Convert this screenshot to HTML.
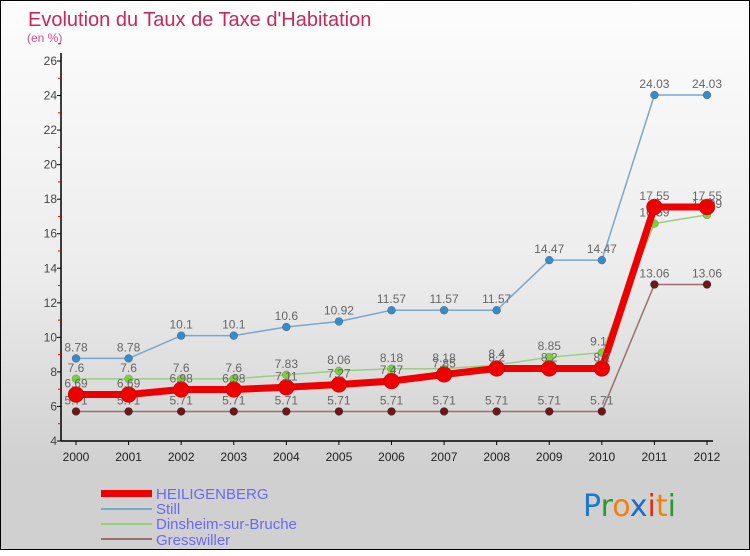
<!DOCTYPE html>
<html><head><meta charset="utf-8"><style>
body{margin:0;width:750px;height:550px;overflow:hidden;font-family:"Liberation Sans",sans-serif}
#c{position:absolute;left:0;top:0;width:748px;height:548px;border:1px solid #000;background:linear-gradient(#fdfdfd 0%,#ececec 50%,#d0d0d0 85%,#d0d0d0 100%)}
</style></head><body>
<div id="c">
<svg width="750" height="550" id="s">
<text x="27" y="25" font-size="20" fill="#c8285a">Evolution du Taux de Taxe d'Habitation</text>
<text x="26" y="41" font-size="12" fill="#c8508a">(en %)</text>
<g id="axes"></g><g id="series"></g>
<g>
<rect x="100" y="489" width="51" height="7" fill="#e00"/>
<text x="155" y="498" font-size="15" fill="#6a6af0">HEILIGENBERG</text>
<line x1="100" y1="508" x2="151" y2="508" stroke="#78a8cc" stroke-width="2"/>
<text x="155" y="513" font-size="15" fill="#6a6af0">Still</text>
<line x1="100" y1="523" x2="151" y2="523" stroke="#98d080" stroke-width="2"/>
<text x="155" y="528" font-size="15" fill="#6a6af0">Dinsheim-sur-Bruche</text>
<line x1="100" y1="538" x2="151" y2="538" stroke="#987070" stroke-width="2"/>
<text x="155" y="544" font-size="15" fill="#6a6af0">Gresswiller</text>
</g>
<g font-size="30" font-family="DejaVu Sans,sans-serif">
<text x="582" y="515"><tspan fill="#1a78d0">P</tspan><tspan fill="#2a9a30">r</tspan><tspan fill="#f08010">o</tspan><tspan fill="#1a6ad0">x</tspan><tspan fill="#e03010">i</tspan><tspan fill="#f08010">t</tspan><tspan fill="#2a9a30">i</tspan></text>
</g>
</svg></div>
<script>
const years=[2000,2001,2002,2003,2004,2005,2006,2007,2008,2009,2010,2011,2012];
const heiligenberg=[6.69,6.69,6.98,6.98,7.11,7.27,7.47,7.85,8.2,8.2,8.2,17.55,17.55];
const still=[8.78,8.78,10.1,10.1,10.6,10.92,11.57,11.57,11.57,14.47,14.47,24.03,24.03];
const dinsheim=[7.6,7.6,7.6,7.6,7.83,8.06,8.18,8.18,8.4,8.85,9.12,16.59,17.09];
const gresswiller=[5.71,5.71,5.71,5.71,5.71,5.71,5.71,5.71,5.71,5.71,5.71,13.06,13.06];
const yTicks=[4,6,8,10,12,14,16,18,20,22,24,26];
const NS='http://www.w3.org/2000/svg';
const X=i=>75+i*(706-75)/12;
const Y=v=>440-(v-4)*380/22;
function el(t,a,p){const e=document.createElementNS(NS,t);for(const k in a)e.setAttribute(k,a[k]);p.appendChild(e);return e;}
const ax=document.getElementById('axes');
el('line',{x1:60,y1:52,x2:60,y2:440,stroke:'#000','stroke-width':1.5},ax);
el('line',{x1:60,y1:440,x2:712,y2:440,stroke:'#000','stroke-width':1.5},ax);
yTicks.forEach(v=>{
 el('line',{x1:56,y1:Y(v),x2:60,y2:Y(v),stroke:'#000'},ax);
 el('line',{x1:57,y1:Y(v+1),x2:60,y2:Y(v+1),stroke:'#e00'},ax);
 const t=el('text',{x:56,y:Y(v)+4,'font-size':12,fill:'#444','text-anchor':'end'},ax);
 
 
 t.textContent=v;
});
years.forEach((yr,i)=>{
 el('line',{x1:X(i),y1:440,x2:X(i),y2:444,stroke:'#000'},ax);
 const t=el('text',{x:X(i),y:460,'font-size':12,fill:'#222','text-anchor':'middle'},ax);
 
 
 t.textContent=yr;
});
const sg=document.getElementById('series');
function draw(name,data,color,w,r,fill,dy){
 const g=el('g',{},sg);
 
 
 el('polyline',{points:data.map((v,i)=>X(i)+','+Y(v)).join(' '),fill:'none',stroke:color,'stroke-width':w,'stroke-linejoin':'round'},g);
 data.forEach((v,i)=>{
  const c=el('circle',{cx:X(i),cy:Y(v),r:r,fill:fill,stroke:'rgba(0,0,0,0.3)','stroke-width':0.5},g);
  
  
  const t=el('text',{x:X(i),y:Y(v)+dy,'font-size':12,fill:'#666','text-anchor':'middle'},g);
  
  
  t.textContent=v;
 });
}
draw('gresswiller',gresswiller,'#987070',1.5,4,'#6a1818',-7);
draw('still',still,'#78a8cc',1.5,4,'#3a8ac8',-7);
draw('dinsheim',dinsheim,'#98d080',1.5,4,'#78d040',-7);
draw('heiligenberg',heiligenberg,'#ee0000',7,8,'#ee0000',-7);
</script></body></html>
